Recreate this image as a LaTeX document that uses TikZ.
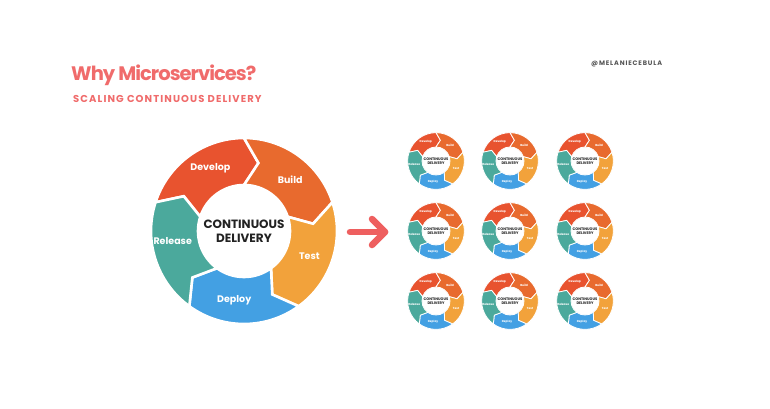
\documentclass[tikz,border=0pt]{standalone}
\usepackage{fontspec}
\setmainfont{Poppins}
\definecolor{cdDev}{HTML}{E8532F}
\definecolor{cdBuild}{HTML}{E86A2E}
\definecolor{cdTest}{HTML}{F2A23B}
\definecolor{cdDeploy}{HTML}{43A0E3}
\definecolor{cdRel}{HTML}{4BA99C}
\definecolor{cdTitle}{HTML}{F06B6B}
\definecolor{cdArrow}{HTML}{EE5F5F}
\definecolor{cdHandle}{HTML}{555555}
\definecolor{cdText}{HTML}{222222}
\def\rout{93}
\def\rin{46}
\def\rmid{69.5}
\newcommand\cdseg[2]{%
  \filldraw[fill=#2, draw=white, line width=\gapw pt, line join=miter]
    (#1:\rout) arc[start angle=#1, end angle={#1-72}, radius=\rout]
    -- ({#1-84}:\rmid) -- ({#1-72}:\rin)
    arc[start angle={#1-72}, end angle=#1, radius=\rin]
    -- ({#1-12}:\rmid) -- cycle;}
\newcommand\cdcycle[4]{%
  \begin{scope}[shift={(#2,#3)}, scale=#4, transform shape]
    \pgfmathsetmacro\gapw{2.6*#4}
    \cdseg{162}{cdDev}
    \cdseg{90}{cdBuild}
    \cdseg{18}{cdTest}
    \cdseg{-54}{cdDeploy}
    \cdseg{234}{cdRel}
    \node[seglbl] (#1-dev) at (118:71.6) {Develop};
    \node[seglbl] (#1-build) at (48:69) {Build};
    \node[seglbl] (#1-test) at (-21:70) {Test};
    \node[seglbl] (#1-deploy) at (-98:70) {Deploy};
    \node[seglbl] (#1-rel) at (188:72) {Release};
    \node[centerlbl] (#1-c) at (0,0) {CONTINUOUS\\DELIVERY};
  \end{scope}}
\tikzset{
  seglbl/.style={text=white, inner sep=0pt, font=\bfseries\fontsize{9.5}{11}\selectfont},
  centerlbl/.style={text=cdText, inner sep=0pt, align=center, font=\bfseries\fontsize{12}{13.5}\selectfont},
}
\begin{document}
\begin{tikzpicture}[x=1pt,y=1pt]
  \useasboundingbox[fill=white] (0,0) rectangle (770,408);
  \node[anchor=base west, inner sep=0pt, text=cdTitle, font=\bfseries\fontsize{19.5}{24}\selectfont\addfontfeatures{LetterSpace=-5}] (title) at (71,327) {Why Microservices?};
  \node[anchor=base west, inner sep=0pt, text=cdTitle, font=\bfseries\fontsize{10}{12}\selectfont\addfontfeatures{LetterSpace=11}] (sub) at (73,306) {SCALING CONTINUOUS DELIVERY};
  \node[anchor=base west, inner sep=0pt, text=cdHandle, font=\bfseries\fontsize{6.5}{8}\selectfont\addfontfeatures{LetterSpace=13}] (handle) at (591,342) {@MELANIECEBULA};
  \cdcycle{big}{244}{177}{1}
  \foreach \c/\cx in {1/436,2/510,3/585}{
    \foreach \r/\cy in {1/247,2/177,3/107}{
      \cdcycle{s\r\c}{\cx}{\cy}{0.305}
    }
  }
  \coordinate (arrA) at (350,176);
  \coordinate (arrB) at (385,176);
  \draw[cdArrow, line width=6.5pt, line cap=round, line join=round] (arrA) -- (arrB);
  \draw[cdArrow, line width=6.5pt, line cap=round, line join=round] ([shift={(-13,13)}]arrB) -- (arrB) -- ([shift={(-13,-13)}]arrB);
\end{tikzpicture}
\end{document}
